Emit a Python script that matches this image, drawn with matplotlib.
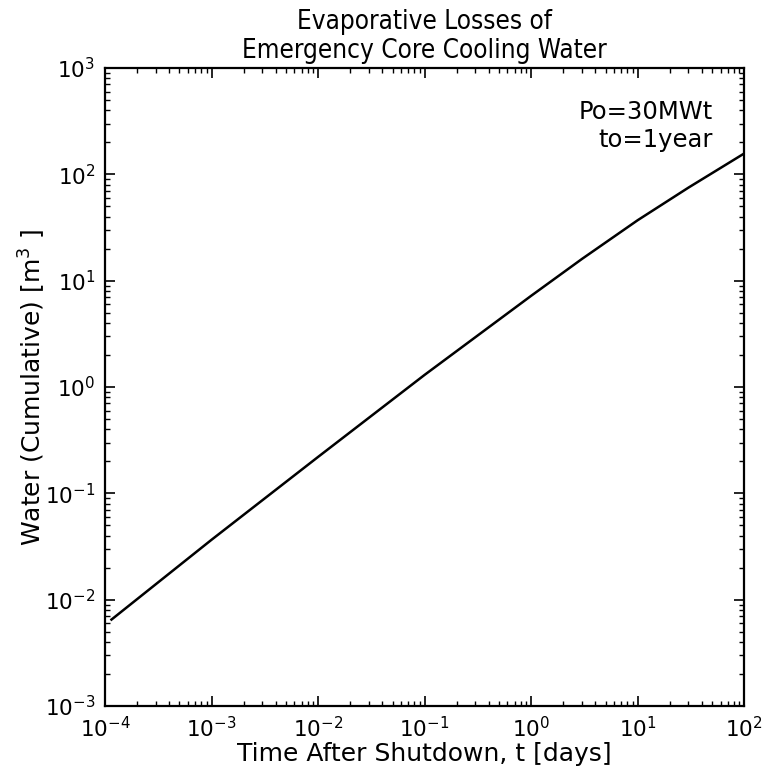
import numpy as np
import matplotlib
matplotlib.use('Agg')
import matplotlib.pyplot as plt

# values (days, m^3)
t_days = [1.15e-4, 1e-3, 1e-2, 1e-1, 1.0, 3.0, 10.0, 30.0, 100.0]
water_m3 = [6.5e-3, 0.0366, 0.22, 1.3, 7.2, 16.0, 37.0, 75.0, 157.0]

plt.rcParams['font.family'] = ['DejaVu Sans']
plt.rcParams['axes.unicode_minus'] = False

fig = plt.figure(figsize=(7.67, 7.78), dpi=100)
ax = fig.add_axes([0.1369, 0.0925, 0.8333, 0.8201])

ax.loglog(t_days, water_m3, color='black', linewidth=1.8)
ax.set_xlim(1e-4, 1e2)
ax.set_ylim(1e-3, 1e3)

ax.set_title('Evaporative Losses of\nEmergency Core Cooling Water', fontsize=18.7,
             fontstretch='condensed', pad=7, linespacing=1.15)
ax.set_xlabel('Time After Shutdown, t [days]', fontsize=18)
ax.set_ylabel('Water (Cumulative) [m$^3$ ]', fontsize=18)
ax.xaxis.set_label_coords(0.5, -0.056)
ax.yaxis.set_label_coords(-0.089, 0.5)

ax.text(0.951, 0.95, 'Po=30MWt\nto=1year', transform=ax.transAxes, fontsize=17.5,
        ha='right', va='top', multialignment='right')

ax.tick_params(which='both', direction='in', top=True, right=True, labelsize=15.5)
ax.tick_params(which='major', length=7, width=1.2, pad=7)
ax.tick_params(which='minor', length=3.5, width=1)
for sp in ax.spines.values():
    sp.set_linewidth(1.6)

fig.savefig('out.png', dpi=100)
